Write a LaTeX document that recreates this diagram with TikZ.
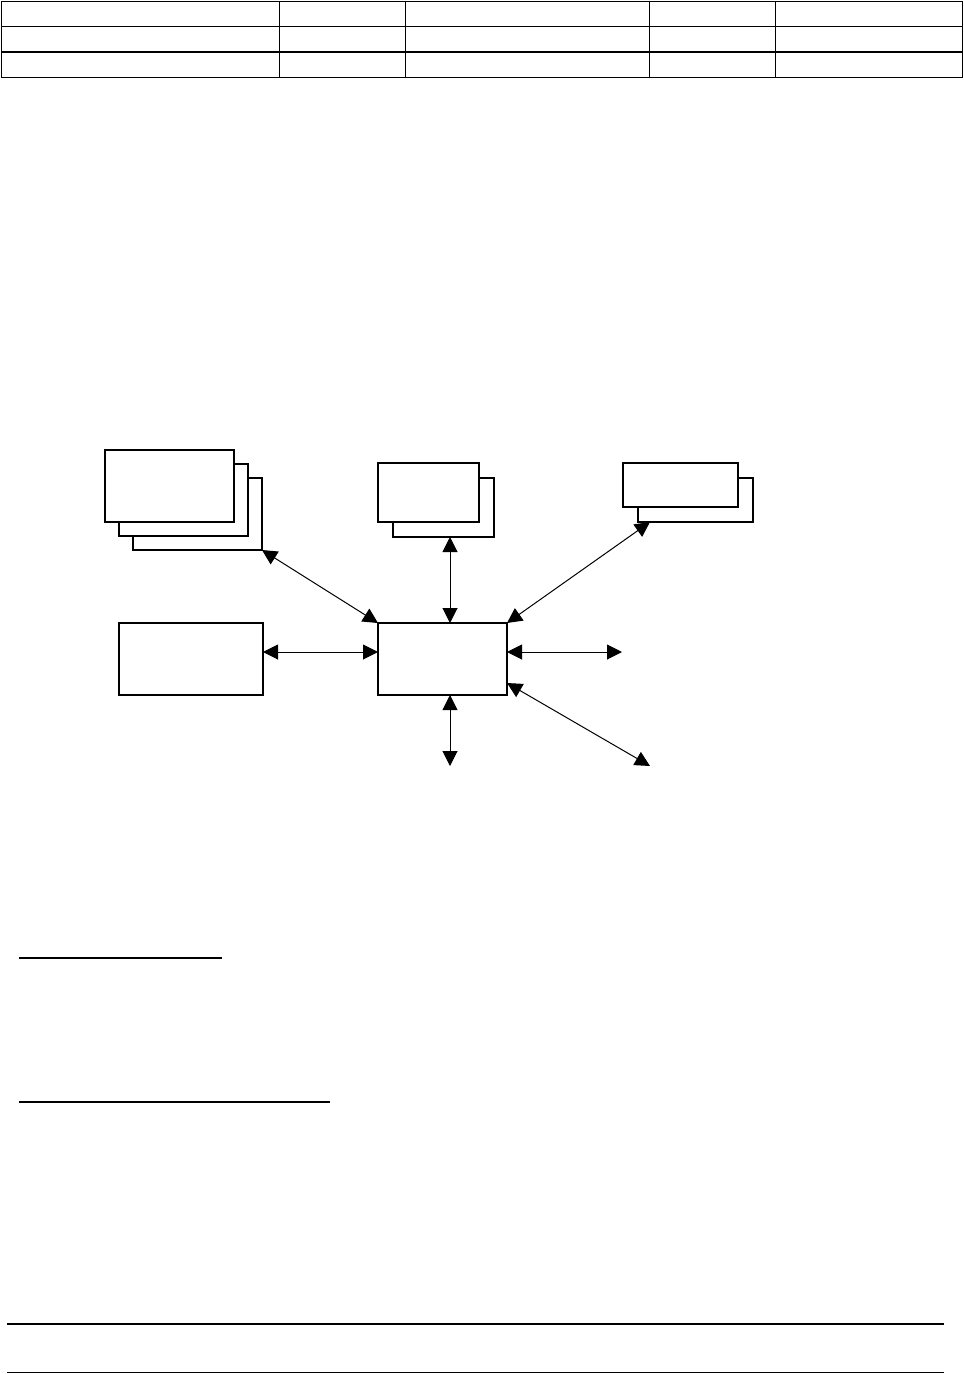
\documentclass[tikz,border=0pt]{standalone}
\usepackage{tikz}
\usetikzlibrary{arrows.meta,positioning,calc}

\begin{document}
\begin{tikzpicture}[
    x=1pt, y=-1pt,
    box/.style={rectangle, draw=black, fill=white, line width=1.5pt,
                inner sep=0pt, outer sep=0pt},
    conn/.style={line width=1pt, {Triangle[length=15pt,width=15pt]}-{Triangle[length=15pt,width=15pt]}},
    rule/.style={line width=2pt}
  ]
    \useasboundingbox (0,0) rectangle (964,1374);

    % Table
    \draw[line width=1pt] (1,1.5) rectangle (962,77);
    \draw[line width=1pt] (1,26) -- (962,26);
    \draw[line width=2pt] (1,51.5) -- (962,51.5);
    \foreach \cx in {279,405,649,775}
      \draw[line width=1pt] (\cx,1.5) -- (\cx,77);

    % Stack 1 (three sheets)
    \node[box, minimum width=129pt, minimum height=72pt] (stk1c) at (197.5,514) {};
    \node[box, minimum width=129pt, minimum height=72pt] (stk1b) at (183.5,500) {};
    \node[box, minimum width=129pt, minimum height=72pt] (stk1a) at (169.5,486) {};

    % Stack 2 (two sheets)
    \node[box, minimum width=101pt, minimum height=59pt] (stk2b) at (443.5,507.5) {};
    \node[box, minimum width=101pt, minimum height=59pt] (stk2a) at (428.5,492.5) {};

    % Stack 3 (two sheets)
    \node[box, minimum width=115pt, minimum height=44pt] (stk3b) at (695.5,500) {};
    \node[box, minimum width=115pt, minimum height=44pt] (stk3a) at (680.5,485) {};

    % Centre and left box
    \node[box, minimum width=129pt, minimum height=72pt] (ctr) at (442.5,659) {};
    \node[box, minimum width=144pt, minimum height=72pt] (lft) at (191,659) {};

    % Free ends
    \coordinate (eout) at (622,652);
    \coordinate (sout) at (450,766);
    \coordinate (seout) at (650,766);

    % Connections
    \draw[conn] (stk1c.south east) -- (ctr.north west);
    \draw[conn] (stk2b.south -| sout) -- (ctr.north -| sout);
    \draw[conn] ([xshift=12pt]stk3b.south west) -- (ctr.north east);
    \draw[conn] ([yshift=7pt]lft.east) -- ([yshift=7pt]ctr.west);
    \draw[conn] ([yshift=7pt]ctr.east) -- (eout);
    \draw[conn] (ctr.south -| sout) -- (sout);
    \draw[conn] ([yshift=12pt]ctr.south east) -- (seout);

    % Underlines
    \draw[rule] (19,958) -- (222,958);
    \draw[rule] (19,1102) -- (330,1102);

    % Footer rules
    \draw[line width=2.5pt] (7,1324) -- (944,1324);
    \draw[line width=1pt] (7,1372) -- (944,1372);
  \end{tikzpicture}
\end{document}
